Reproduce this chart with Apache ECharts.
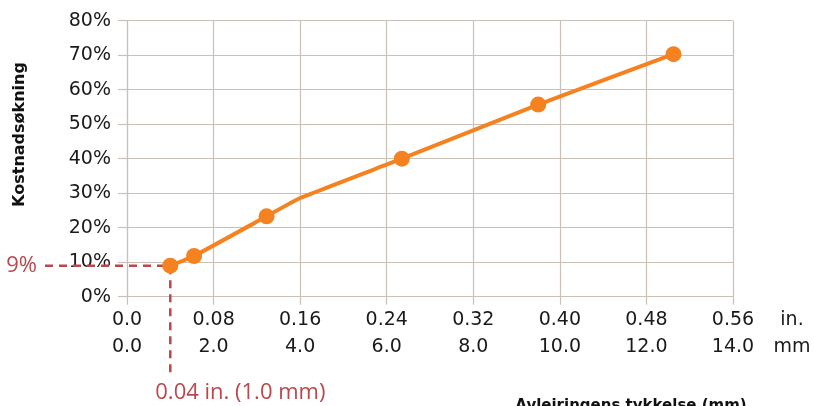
<!DOCTYPE html>
<html>
<head>
<meta charset="utf-8">
<script src="https://cdn.jsdelivr.net/npm/echarts@6/dist/echarts.min.js"></script>
<style>
  html, body { margin: 0; padding: 0; background: #ffffff; }
  #chart { width: 814px; height: 406px; }
</style>
</head>
<body>
<div id="chart"></div>
<script>
// Deposit thickness (inches) and resulting cost increase (%)
const thicknessIn = [0.04, 0.062, 0.129, 0.16, 0.254, 0.38, 0.505];
const costIncrease = [9, 11.8, 23.3, 28.6, 40.0, 55.7, 70.3];
const markerShown = [true, true, true, false, true, true, true];

// Two-row x tick labels: inches on top, millimetres underneath
const inchLabels = ['0.0', '0.08', '0.16', '0.24', '0.32', '0.40', '0.48', '0.56'];
const mmLabels = ['0.0', '2.0', '4.0', '6.0', '8.0', '10.0', '12.0', '14.0'];

// Highlighted reference point
const refThicknessIn = 0.04;
const refCost = 9;
const refCostLabel = '9%';
const refThicknessLabel = '0.04 in. (1.0 mm)';

const yAxisTitle = 'Kostnadsøkning';
const xAxisTitle = 'Avleiringens tykkelse (mm)';

const ORANGE = '#F58220';
const GRID = '#C9C0B7';
const RED = '#B9474C';
const FONT = 'DejaVu Sans';

const chart = echarts.init(document.getElementById('chart'), null, { renderer: 'canvas' });

const seriesData = thicknessIn.map((x, i) => {
  const item = { value: [x, costIncrease[i]] };
  if (!markerShown[i]) item.symbol = 'none';
  return item;
});

chart.setOption({
  animation: false,
  backgroundColor: '#ffffff',
  grid: {
    left: 127, right: 81, top: 20.7, bottom: 109.3,
    containLabel: false, outerBoundsMode: 'none'
  },
  xAxis: {
    type: 'value',
    min: 0,
    max: 0.56,
    interval: 0.08,
    name: 'in.\nmm',
    nameLocation: 'end',
    nameGap: 59,
    nameTextStyle: {
      fontFamily: FONT, fontSize: 19, color: '#1a1a1a',
      align: 'center', verticalAlign: 'top', lineHeight: 27, padding: [10, 0, 0, 0]
    },
    axisLine: { show: true, lineStyle: { color: GRID, width: 1.2 } },
    axisTick: { show: true, length: 8, lineStyle: { color: GRID, width: 1.2 } },
    splitLine: { show: true, lineStyle: { color: GRID, width: 1.2 } },
    axisLabel: {
      margin: 10,
      fontFamily: FONT, fontSize: 19, color: '#1a1a1a', lineHeight: 27,
      formatter: v => {
        const i = Math.round(v / 0.08);
        return inchLabels[i] + '\n' + mmLabels[i];
      }
    }
  },
  yAxis: {
    type: 'value',
    min: 0,
    max: 80,
    interval: 10,
    axisLine: { show: true, lineStyle: { color: GRID, width: 1.2 } },
    axisTick: { show: true, length: 9, lineStyle: { color: GRID, width: 1.2 } },
    splitLine: { show: true, lineStyle: { color: GRID, width: 1.2 } },
    axisLabel: {
      margin: 16,
      fontFamily: FONT, fontSize: 19, color: '#1a1a1a',
      formatter: '{value}%'
    }
  },
  series: [{
    type: 'line',
    data: seriesData,
    smooth: 0.12,
    symbol: 'circle',
    symbolSize: 16,
    lineStyle: { color: ORANGE, width: 4 },
    itemStyle: { color: ORANGE },
    z: 5
  }]
});

// Dashed callout for the reference point, placed through the chart's own scales
const p = chart.convertToPixel({ gridIndex: 0 }, [refThicknessIn, refCost]);
chart.setOption({
  graphic: [
    {
      type: 'polyline',
      shape: { points: [[45, p[1]], [p[0], p[1]], [p[0], 377]] },
      style: { stroke: RED, lineWidth: 2.5, lineDash: [8, 6], fill: null },
      z: 3
    },
    {
      type: 'text',
      x: 37, y: p[1],
      style: {
        text: refCostLabel, fill: RED, font: '22px "Open Sans"',
        align: 'right', verticalAlign: 'middle'
      }
    },
    {
      type: 'text',
      x: p[0] - 15, y: 393,
      style: {
        text: refThicknessLabel, fill: RED, font: '22px "Open Sans"',
        align: 'left', verticalAlign: 'middle'
      }
    },
    {
      type: 'text',
      x: 20, y: 134.5,
      rotation: Math.PI / 2,
      style: {
        text: yAxisTitle, fill: '#111', font: 'bold 16px "DejaVu Sans"',
        align: 'center', verticalAlign: 'middle'
      }
    },
    {
      type: 'text',
      x: 631, y: 406,
      style: {
        text: xAxisTitle, fill: '#111', font: 'bold 15px "DejaVu Sans"',
        align: 'center', verticalAlign: 'middle'
      }
    }
  ]
});
</script>
</body>
</html>
